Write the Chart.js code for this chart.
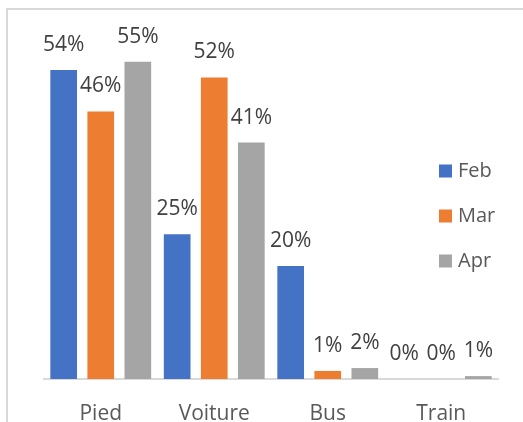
<!DOCTYPE html>
<html>
<head>
<meta charset="utf-8">
<script src="https://cdn.jsdelivr.net/npm/chart.js@4/dist/chart.umd.min.js"></script>
<style>
  html, body { margin: 0; padding: 0; background: #fff; }
  #wrap { position: absolute; left: 0; top: 0; width: 523px; height: 422px; }
</style>
</head>
<body>
<div id="wrap"><canvas id="c" width="523" height="422"></canvas></div>
<script>
const categories = ['Pied', 'Voiture', 'Bus', 'Train'];
const seriesNames = ['Feb', 'Mar', 'Apr'];
const febValues = [53.6, 25.1, 19.6, 0];
const marValues = [46.4, 52.3, 1.4, 0];
const aprValues = [55.0, 41.0, 1.9, 0.5];
const seriesColors = ['#4472C4', '#ED7D31', '#A5A5A5'];

const FONT = '"Open Sans", "Liberation Sans", sans-serif';

const framePlugin = {
  id: 'frame',
  beforeDraw(chart) {
    const ctx = chart.ctx;
    ctx.save();
    ctx.strokeStyle = '#d9d9d9';
    ctx.lineWidth = 2;
    ctx.strokeRect(7, 9, 700, 700);
    ctx.restore();
  }
};

const labelPlugin = {
  id: 'valueLabels',
  afterDatasetsDraw(chart) {
    const ctx = chart.ctx;
    ctx.save();
    ctx.font = '21px ' + FONT;
    ctx.fillStyle = '#404040';
    ctx.textAlign = 'center';
    ctx.textBaseline = 'middle';
    chart.data.datasets.forEach((ds, i) => {
      const meta = chart.getDatasetMeta(i);
      meta.data.forEach((bar, j) => {
        const v = ds.data[j];
        ctx.fillText(Math.round(v) + '%', bar.x, bar.y - 25);
      });
    });
    ctx.restore();
  }
};

const legendPlugin = {
  id: 'insideLegend',
  afterDraw(chart) {
    const ctx = chart.ctx;
    ctx.save();
    ctx.font = '20px ' + FONT;
    ctx.textAlign = 'left';
    ctx.textBaseline = 'middle';
    chart.data.datasets.forEach((ds, i) => {
      const cy = 171 + i * 45;
      ctx.fillStyle = ds.backgroundColor;
      ctx.fillRect(439, cy - 6.5, 13, 13);
      ctx.fillStyle = '#595959';
      ctx.fillText(ds.label, 458, cy);
    });
    ctx.restore();
  }
};

const seriesValues = [febValues, marValues, aprValues];

new Chart(document.getElementById('c'), {
  type: 'bar',
  data: {
    labels: categories,
    datasets: seriesNames.map((name, i) => ({
      label: name,
      data: seriesValues[i],
      backgroundColor: seriesColors[i],
      borderWidth: 0,
      categoryPercentage: 0.98,
      barPercentage: 0.72
    }))
  },
  options: {
    responsive: false,
    animation: false,
    devicePixelRatio: 1,
    layout: { padding: { left: 44, right: 25, top: 33, bottom: 0 } },
    plugins: { legend: { display: false }, tooltip: { enabled: false } },
    scales: {
      x: {
        grid: { display: false, drawTicks: false },
        border: { display: true, color: '#d9d9d9', width: 2 },
        ticks: { color: '#595959', font: { family: FONT, size: 21 }, padding: 22 },
        afterFit(s) { s.height = 43; }
      },
      y: {
        display: false,
        min: 0,
        max: 60
      }
    }
  },
  plugins: [framePlugin, labelPlugin, legendPlugin]
});
</script>
</body>
</html>
